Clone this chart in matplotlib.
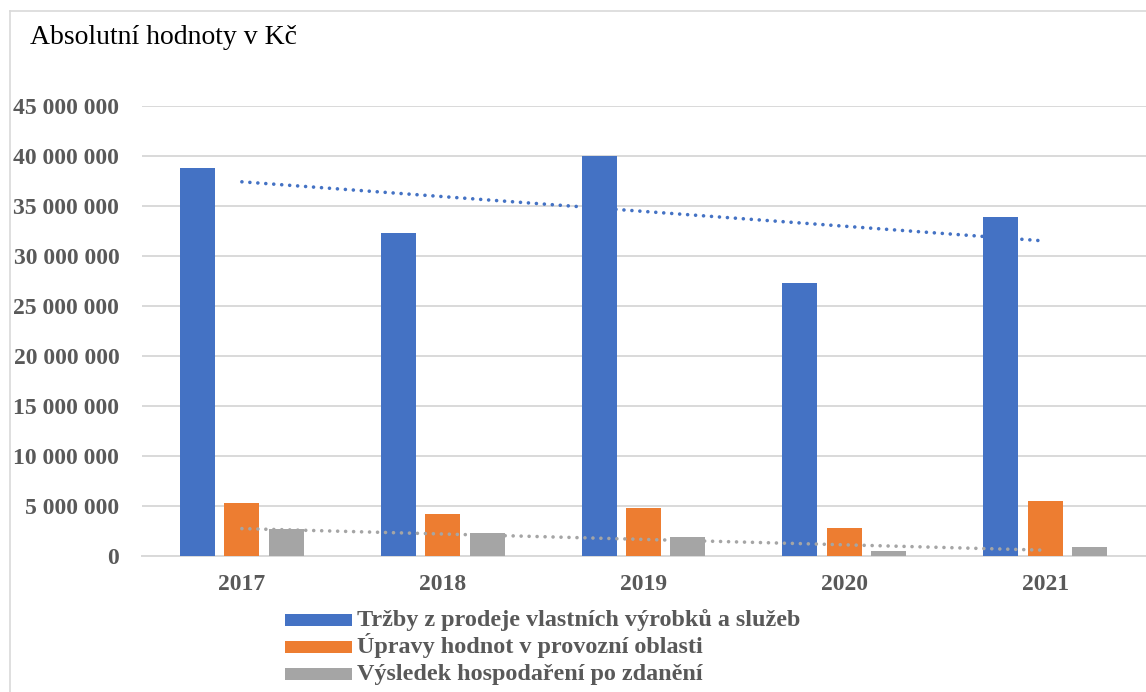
import numpy as np
import matplotlib
matplotlib.use('Agg')
import matplotlib.pyplot as plt
from matplotlib.patches import Rectangle
from matplotlib.lines import Line2D
from matplotlib.ticker import FuncFormatter

# Data (Kč)
roky = ['2017', '2018', '2019', '2020', '2021']
trzby = [38800000, 32300000, 40000000, 27300000, 33900000]
upravy = [5300000, 4200000, 4800000, 2800000, 5500000]
vysledek = [2700000, 2300000, 1900000, 500000, 900000]
nazvy = ['Tržby z prodeje vlastních výrobků a služeb',
         'Úpravy hodnot v provozní oblasti',
         'Výsledek hospodaření po zdanění']
barvy = ['#4472C4', '#ED7D31', '#A5A5A5']

plt.rcParams['font.family'] = ['Liberation Serif', 'DejaVu Serif']
seda_text = '#595959'

W, H = 1146, 692
fig = plt.figure(figsize=(W / 100, H / 100), dpi=100)
ax = fig.add_axes([141.5 / W, 136 / H, 1004 / W, 450 / H])

x = np.arange(len(roky))
sirka = 0.174
krok = 0.221
for i, (hodnoty, barva) in enumerate(zip([trzby, upravy, vysledek], barvy)):
    ax.bar(x + (i - 1) * krok, hodnoty, width=sirka, color=barva, zorder=3)

# lineární trendy (modrá a šedá řada)
for hodnoty, barva in [(trzby, barvy[0]), (vysledek, barvy[2])]:
    k, q = np.polyfit(x, hodnoty, 1)
    ax.plot(x, k * x + q, color=barva, linewidth=2.6,
            linestyle=(0, (0.01, 2.2)), dash_capstyle='round', zorder=4)

ax.set_xlim(-0.5, len(roky) - 0.5)
ax.set_ylim(0, 45000000)
ax.set_yticks(np.arange(0, 45000001, 5000000))
ax.yaxis.set_major_formatter(FuncFormatter(lambda v, p: f"{int(v):,}".replace(',', ' ')))
ax.set_xticks(x)
ax.set_xticklabels(roky)
ax.grid(axis='y', color='#D9D9D9', linewidth=1.4, zorder=0)
ax.grid(axis='x', visible=False)
for s in ['top', 'right', 'left']:
    ax.spines[s].set_visible(False)
ax.spines['bottom'].set_color('#D9D9D9')
ax.spines['bottom'].set_linewidth(1.4)
ax.tick_params(axis='both', length=0, labelcolor=seda_text, labelsize=17)
ax.tick_params(axis='y', pad=16)
ax.tick_params(axis='x', pad=13)
for t in ax.get_xticklabels() + ax.get_yticklabels():
    t.set_fontweight('bold')

fig.text(30 / W, 1 - 38 / H, 'Absolutní hodnoty v Kč', fontsize=20,
         color='black', va='center', ha='left')

# legenda pod grafem
stredy = [620, 647, 674]
for nazev, barva, yc in zip(nazvy, barvy, stredy):
    fig.add_artist(Rectangle((285 / W, 1 - (yc + 6) / H), 67 / W, 12 / H,
                             transform=fig.transFigure, facecolor=barva, edgecolor='none'))
    fig.text(357 / W, 1 - (yc + 6) / H, nazev, fontsize=17.4, fontweight='bold',
             color=seda_text, va='baseline', ha='left')

# rámeček grafu (horní a levý okraj)
fig.add_artist(Line2D([9.5 / W, 9.5 / W], [0, 1 - 10.5 / H], color='#D9D9D9', linewidth=1.2))
fig.add_artist(Line2D([9.5 / W, 1], [1 - 10.5 / H, 1 - 10.5 / H], color='#D9D9D9', linewidth=1.2))

fig.savefig('out.png', dpi=100)
